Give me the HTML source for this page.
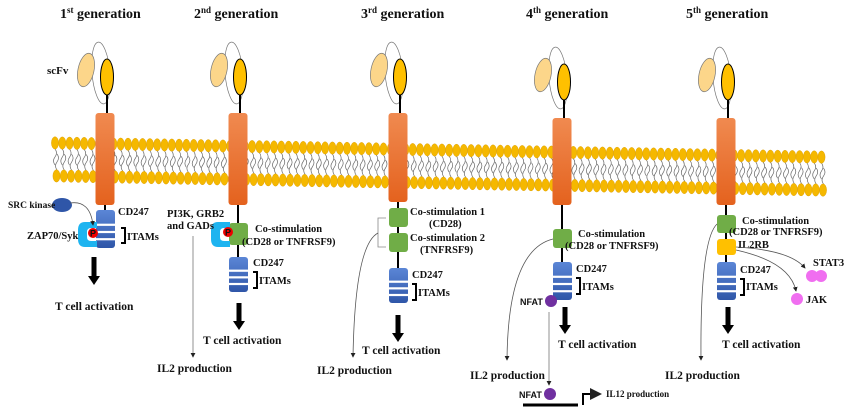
<!DOCTYPE html>
<html><head><meta charset="utf-8"><style>
html,body{margin:0;padding:0;background:#fff;width:850px;height:407px;overflow:hidden}
svg text{font-family:"Liberation Serif",serif;font-weight:bold;fill:#111}
</style></head><body>
<svg id="s" width="850" height="407" viewBox="0 0 850 407" xmlns="http://www.w3.org/2000/svg">
<defs>
<linearGradient id="og" x1="0" y1="0" x2="0" y2="1"><stop offset="0" stop-color="#f08a50"/><stop offset="1" stop-color="#e4621e"/></linearGradient>
<linearGradient id="bg" x1="0" y1="0" x2="0" y2="1"><stop offset="0" stop-color="#5b86d6"/><stop offset="1" stop-color="#2f56a8"/></linearGradient>
<marker id="ah" markerWidth="6" markerHeight="6" refX="5" refY="3" orient="auto"><path d="M0,0 L6,3 L0,6z" fill="#222"/></marker>
</defs>
<g id="mem"></g>
<g font-size="14">
<text x="60" y="18">1<tspan font-size="9" dy="-5">st</tspan><tspan dy="5"> generation</tspan></text>
<text x="194" y="18">2<tspan font-size="9" dy="-5">nd</tspan><tspan dy="5"> generation</tspan></text>
<text x="361" y="18">3<tspan font-size="9" dy="-5">rd</tspan><tspan dy="5"> generation</tspan></text>
<text x="526" y="18">4<tspan font-size="9" dy="-5">th</tspan><tspan dy="5"> generation</tspan></text>
<text x="686" y="18">5<tspan font-size="9" dy="-5">th</tspan><tspan dy="5"> generation</tspan></text>
</g>
<text x="47" y="74" font-size="11">scFv</text>
<g id="cars"></g>
<g font-size="10.5">
<!-- gen1 -->
<ellipse cx="62" cy="205" rx="10" ry="7" fill="#2f56a8"/>
<text x="8" y="208" font-size="9.5">SRC kinase</text>
<path d="M70,203 Q90,200 93,225" fill="none" stroke="#555" stroke-width="0.8" marker-end="url(#ah)"/>
<text x="27" y="239">ZAP70/Syk</text>
<text x="118" y="215">CD247</text>
<text x="127" y="240">ITAMs</text>
<path d="M121,228 h4 v15 h-4" fill="none" stroke="#000" stroke-width="2"/>
<text x="55" y="310" font-size="11.5">T cell activation</text>
<!-- gen2 -->
<text x="167" y="217">PI3K, GRB2</text>
<text x="167" y="229">and GADs</text>
<text x="255" y="232">Co-stimulation</text>
<text x="242" y="245">(CD28 or TNFRSF9)</text>
<text x="253" y="266">CD247</text>
<text x="259" y="284">ITAMs</text>
<path d="M253,272 h4 v16 h-4" fill="none" stroke="#000" stroke-width="2"/>
<line x1="193" y1="236" x2="193" y2="357" stroke="#777" stroke-width="0.8" marker-end="url(#ah)"/>
<text x="203" y="344" font-size="11.5">T cell activation</text>
<text x="157" y="372" font-size="11.5">IL2 production</text>
<!-- gen3 -->
<text x="410" y="215">Co-stimulation 1</text>
<text x="429" y="227">(CD28)</text>
<text x="410" y="241">Co-stimulation 2</text>
<text x="420" y="253">(TNFRSF9)</text>
<path d="M386,218 h-8 v29 h8" fill="none" stroke="#888" stroke-width="0.8"/>
<path d="M378,233 Q355,245 353,357" fill="none" stroke="#555" stroke-width="0.8" marker-end="url(#ah)"/>
<text x="412" y="278">CD247</text>
<text x="418" y="296">ITAMs</text>
<path d="M412,284 h4 v16 h-4" fill="none" stroke="#000" stroke-width="2"/>
<text x="362" y="354" font-size="11.5">T cell activation</text>
<text x="317" y="374" font-size="11.5">IL2 production</text>
<!-- gen4 -->
<text x="578" y="237">Co-stimulation</text>
<text x="565" y="249">(CD28 or TNFRSF9)</text>
<text x="576" y="272">CD247</text>
<text x="582" y="290">ITAMs</text>
<path d="M576,278 h4 v16 h-4" fill="none" stroke="#000" stroke-width="2"/>
<path d="M553,239 Q508,250 507,360" fill="none" stroke="#555" stroke-width="0.8" marker-end="url(#ah)"/>
<text x="520" y="305" font-size="9" style="font-family:'Liberation Sans',sans-serif">NFAT</text>
<circle cx="551" cy="301" r="6" fill="#7030a0"/>
<line x1="549" y1="312" x2="549" y2="385" stroke="#777" stroke-width="0.8" marker-end="url(#ah)"/>
<text x="558" y="348" font-size="11.5">T cell activation</text>
<text x="470" y="379" font-size="11.5">IL2 production</text>
<text x="519" y="398" font-size="9" style="font-family:'Liberation Sans',sans-serif">NFAT</text>
<circle cx="550" cy="394" r="6" fill="#7030a0"/>
<line x1="523" y1="405" x2="578" y2="405" stroke="#000" stroke-width="3"/>
<path d="M583,405 V394 H600" fill="none" stroke="#000" stroke-width="2" marker-end="url(#ah)"/>
<text x="606" y="397" font-size="9">IL12 production</text>
<!-- gen5 -->
<text x="742" y="224">Co-stimulation</text>
<text x="729" y="235">(CD28 or TNFRSF9)</text>
<text x="738" y="248">IL2RB</text>
<text x="740" y="273">CD247</text>
<text x="746" y="290">ITAMs</text>
<path d="M740,279 h4 v16 h-4" fill="none" stroke="#000" stroke-width="2"/>
<path d="M717,224 Q700,240 701,360" fill="none" stroke="#555" stroke-width="0.8" marker-end="url(#ah)"/>
<path d="M736,247 Q790,250 805,268" fill="none" stroke="#555" stroke-width="0.8" marker-end="url(#ah)"/>
<path d="M736,250 Q790,262 796,291" fill="none" stroke="#555" stroke-width="0.8" marker-end="url(#ah)"/>
<circle cx="812" cy="276" r="6" fill="#f06ef0"/><circle cx="821" cy="276" r="6" fill="#f06ef0"/>
<text x="813" y="266">STAT3</text>
<circle cx="797" cy="299" r="6" fill="#f06ef0"/>
<text x="806" y="303">JAK</text>
<text x="722" y="348" font-size="11.5">T cell activation</text>
<text x="665" y="379" font-size="11.5">IL2 production</text>
</g>
</svg>
<script>
var NS="http://www.w3.org/2000/svg";
function el(p,t,a){var e=document.createElementNS(NS,t);for(var k in a)e.setAttribute(k,a[k]);p.appendChild(e);return e;}
var mem=document.getElementById('mem');
function ty(x){return 143+(x-60)*0.0185;}
var tails="";
for(var x=55;x<=825;x+=7.3){
 var t=ty(x);
 tails+="M"+(x)+","+(t+6)+" q3,4 0,8 q-3,4 0,8 M"+(x+2)+","+(t+27)+" q-3,-4 0,-8 q3,-4 0,-8 ";
}
el(mem,'path',{d:tails,fill:'none',stroke:'#666','stroke-width':'0.7'});
for(var x=55;x<=825;x+=7.3){
 var t=ty(x);
 el(mem,'ellipse',{cx:x,cy:t,rx:3.6,ry:6.2,fill:'#f5b800',stroke:'#d99a00','stroke-width':'0.4'});
 el(mem,'ellipse',{cx:x+1.5,cy:t+33,rx:3.6,ry:6.2,fill:'#f5b800',stroke:'#d99a00','stroke-width':'0.4'});
}
var cars=document.getElementById('cars');
var G=[{c:105,t:113,b:205,a:0},{c:238,t:113,b:205,a:0},{c:398,t:113,b:202,a:0},{c:562,t:118,b:205,a:5},{c:726,t:118,b:205,a:5}];
var ends=[248,292,303,300,300];
G.forEach(function(g,i){
 var c=g.c,a=g.a;
 el(cars,'line',{x1:c,y1:g.b,x2:c,y2:ends[i]-5,stroke:'#000','stroke-width':2});
 el(cars,'ellipse',{cx:c-4,cy:73+a,rx:9,ry:31,fill:'none',stroke:'#777','stroke-width':0.7,transform:'rotate(-5 '+(c-4)+' '+(73+a)+')'});
 el(cars,'ellipse',{cx:c-19,cy:70+a,rx:8,ry:17,fill:'#fcd68a',stroke:'#777','stroke-width':0.7,transform:'rotate(12 '+(c-19)+' '+(70+a)+')'});
 el(cars,'line',{x1:c+2,y1:95+a,x2:c+2,y2:g.t,stroke:'#000','stroke-width':2});
 el(cars,'ellipse',{cx:c+2,cy:77+a,rx:6.5,ry:18,fill:'#ffc000',stroke:'#000','stroke-width':1});
 el(cars,'rect',{x:c-9.5,y:g.t,width:19,height:g.b-g.t,rx:3,fill:'url(#og)'});
});
function cd(x,y,h){
 el(cars,'rect',{x:x,y:y,width:19,height:h,rx:3,fill:'url(#bg)'});
 var s=y+h*0.36;
 for(var k=0;k<3;k++)el(cars,'rect',{x:x,y:s+k*h*0.19,width:19,height:2.2,fill:'#fff'});
}
function green(x,y,h){el(cars,'rect',{x:x,y:y,width:19,height:h,rx:3,fill:'#70ad47'});}
function arr(x,y1,y2){el(cars,'rect',{x:x-2.5,y:y1,width:5,height:y2-y1-8,fill:'#000'});el(cars,'path',{d:'M'+(x-6)+','+(y2-9)+' L'+(x+6)+','+(y2-9)+' L'+x+','+y2+'z',fill:'#000'});}
function zap(x,y){el(cars,'path',{d:'M'+(x+19)+','+y+' h-12 q-7,0 -7,8 v9 q0,8 7,8 h12 v-6 h-6 q-4,0 -4,-4 v-5 q0,-4 4,-4 h6z',fill:'#1eb4f0'});}
function P(x,y){el(cars,'circle',{cx:x,cy:y,r:5,fill:'#e00'});var t=el(cars,'text',{x:x-3,y:y+3.5,'font-size':9,style:'font-family:Liberation Sans,sans-serif'});t.textContent='P';}
cd(96,210,38); zap(78,222); P(93,233); arr(94,257,285);
green(229,223,22); cd(229,257,35); zap(211,222); P(228,232); arr(239,303,330);
green(389,208,19); green(389,233,19); cd(389,268,35); arr(398,315,342);
green(553,229,19); cd(553,262,38); arr(565,307,334);
green(717,215,18); el(cars,'rect',{x:717,y:239,width:19,height:16,rx:3,fill:'#ffc000'}); cd(717,262,38); arr(728,307,334);
</script>
</body></html>
